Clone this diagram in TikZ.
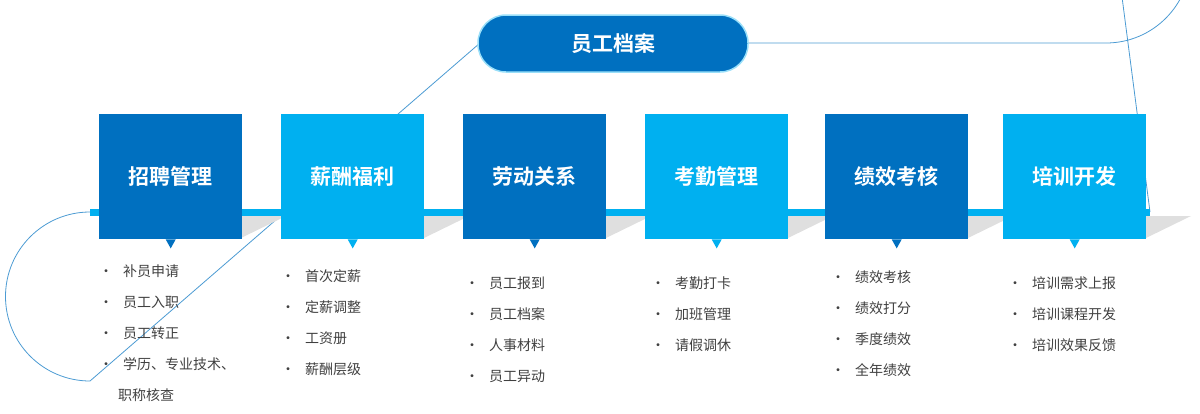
\documentclass[tikz,border=0pt]{standalone}
\usepackage{fontspec}
\setmainfont{Noto Sans CJK SC}
\newfontfamily\cjkb{Noto Sans CJK SC Bold}
\definecolor{dk}{HTML}{0070C0}
\definecolor{lt}{HTML}{00B0F0}
\definecolor{tx}{HTML}{404040}
\begin{document}
\begin{tikzpicture}[x=1pt,y=-1pt,
  box/.style={minimum width=143pt,minimum height=125pt,inner sep=0,anchor=north west,text=white,font=\cjkb\fontsize{21}{24}\selectfont},
  item/.style={anchor=west,text=tx,font=\fontsize{14}{16}\selectfont,inner sep=0},
  ptr/.style={fill=#1}]
\useasboundingbox (0,0) rectangle (1200,413);
% loop line
\draw[dk!70,line width=0.8pt] (90,212) arc[start angle=270,end angle=90,radius=84.5] -- (480,43);
\draw[dk!70,line width=0.8pt] (748,43) -- (1106,43) arc[start angle=90,end angle=-90,radius=84.5] -- (1150,212);
% bar
\fill[lt] (90,209) rectangle (1150,216);
\foreach \x in {241,424,606,788,968,1146}{
  \fill[gray!25] (\x,216) -- (\x+45,216) -- (\x,238) -- cycle;}
% title pill
\node[fill=dk,rounded corners=28pt,minimum width=270pt,minimum height=57pt,text=white,font=\cjkb\fontsize{21}{24}\selectfont,draw=lt!40,line width=1.5pt] (t) at (613,43.5) {员工档案};
% boxes
\node[box,fill=dk] (b1) at (99,114) {招聘管理};
\node[box,fill=lt] (b2) at (281,114) {薪酬福利};
\node[box,fill=dk] (b3) at (463,114) {劳动关系};
\node[box,fill=lt] (b4) at (645,114) {考勤管理};
\node[box,fill=dk] (b5) at (825,114) {绩效考核};
\node[box,fill=lt] (b6) at (1003,114) {培训开发};
\foreach \b/\c in {b1/dk,b2/lt,b3/dk,b4/lt,b5/dk,b6/lt}{
  \fill[\c] ([xshift=-5pt]\b.south) -- ([xshift=5pt]\b.south) -- ([yshift=-9pt]\b.south) -- cycle;}
% lists
\foreach \x/\y/\t in {
 99/271/补员申请, 99/302/员工入职, 99/333/员工转正, 99/364/学历、专业技术、,
 281/276/首次定薪, 281/307/定薪调整, 281/338/工资册, 281/369/薪酬层级,
 465/283/员工报到, 465/314/员工档案, 465/345/人事材料, 465/376/员工异动,
 651/283/考勤打卡, 651/314/加班管理, 651/345/请假调休,
 831/277/绩效考核, 831/308/绩效打分, 831/339/季度绩效, 831/370/全年绩效,
 1008/283/培训需求上报, 1008/314/培训课程开发, 1008/345/培训效果反馈}{
  \node[item] at (\x,\y) {\textbullet\hspace{10pt}\t};}
\node[item] (c) at (118,395) {职称核查};
\end{tikzpicture}
\end{document}
